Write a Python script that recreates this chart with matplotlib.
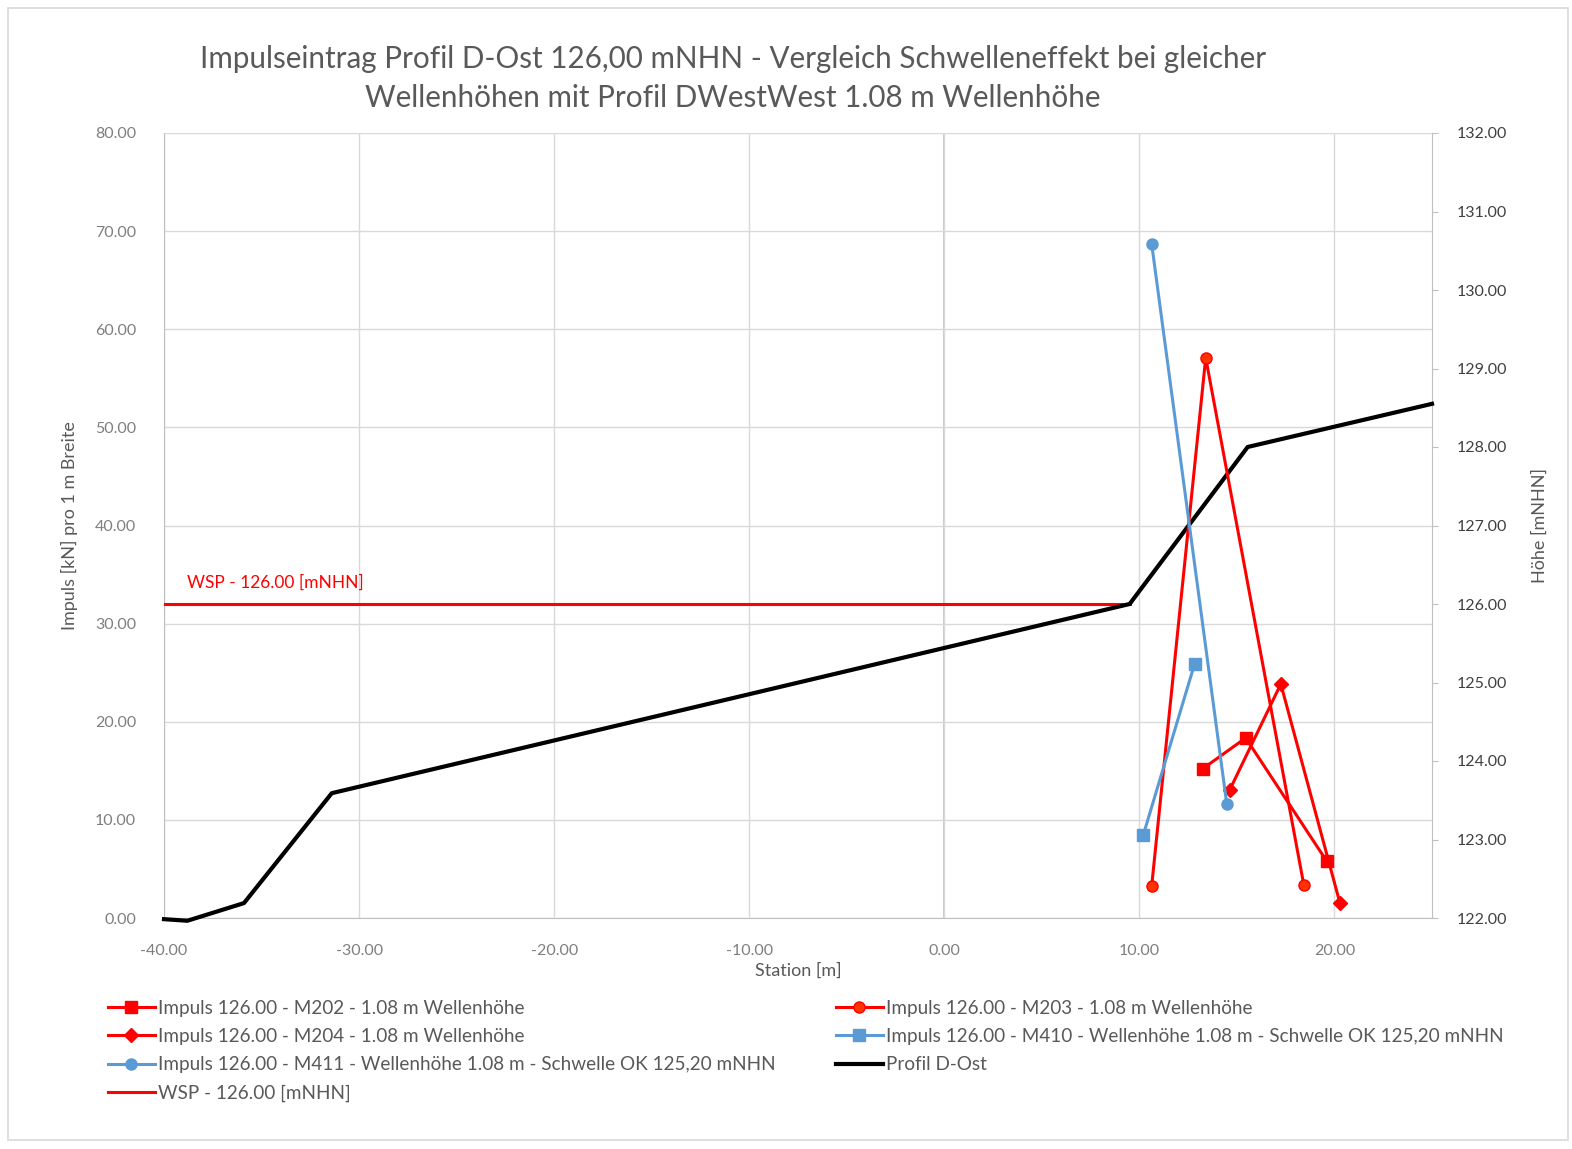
import matplotlib.pyplot as plt
from matplotlib.patches import Rectangle
from matplotlib.lines import Line2D

plt.rcParams['font.family'] = ['Lato', 'DejaVu Sans']

# Impuls-Messungen (Station [m], Impuls [kN/m])
m202_x = [13.24, 15.45, 19.6]
m202_y = [15.2, 18.35, 5.8]
m203_x = [10.63, 13.4, 18.43]
m203_y = [3.26, 57.1, 3.36]
m204_x = [14.63, 17.25, 20.28]
m204_y = [13.05, 23.85, 1.53]
m410_x = [10.2, 12.83]
m410_y = [8.46, 25.9]
m411_x = [10.63, 14.48]
m411_y = [68.7, 11.6]

# Profil D-Ost (Station [m], Hoehe [mNHN])
prof_x = [-40.0, -38.8, -35.9, -31.4, 9.5, 15.55, 25.0]
prof_h = [121.985, 121.965, 122.19, 123.59, 126.0, 128.0, 128.55]

# Wasserspiegel
wsp_x = [-40.0, 9.5]
wsp_h = [126.0, 126.0]

x_ticks = [-40, -30, -20, -10, 0, 10, 20]
left_ticks = [0, 10, 20, 30, 40, 50, 60, 70, 80]
right_ticks = [122, 123, 124, 125, 126, 127, 128, 129, 130, 131, 132]

red = '#ff0000'
blue = '#5b9bd5'
grey = '#595959'


def to_right(vals):
    # linke Achse 0..80 auf rechte Achse 122..132 abbilden
    return [122 + v / 8 for v in vals]


fig = plt.figure(figsize=(15.72, 11.49), dpi=100)
fig.patches.append(Rectangle((8 / 1572, 9 / 1149), 1560 / 1572, 1132 / 1149,
                             transform=fig.transFigure, fill=False,
                             edgecolor='#d9d9d9', linewidth=1.2))

ax = fig.add_axes([164 / 1572, 1 - 918 / 1149, 1268 / 1572, 785 / 1149])
ax2 = ax.twinx()

ax.set_xlim(-40, 25)
ax.set_ylim(0, 80)
ax2.set_ylim(122, 132)

ax.set_xticks(x_ticks)
ax.set_xticklabels([f'{v:.2f}' for v in x_ticks])
ax.set_yticks(left_ticks)
ax.set_yticklabels([f'{v:.2f}' for v in left_ticks])
ax2.set_yticks(right_ticks)
ax2.set_yticklabels([f'{v:.2f}' for v in right_ticks])

ax.grid(True, color='#d9d9d9', linewidth=1.0)
ax.set_axisbelow(True)
ax.axvline(0, color='#bfbfbf', linewidth=1.2, zorder=0.5)
for a in (ax, ax2):
    for s in a.spines.values():
        s.set_visible(False)
ax.spines['left'].set_visible(True)
ax.spines['left'].set_color('#bfbfbf')
ax.spines['bottom'].set_visible(True)
ax.spines['bottom'].set_color('#bfbfbf')
ax2.spines['right'].set_visible(True)
ax2.spines['right'].set_color('#bfbfbf')

ax.tick_params(axis='y', length=0, labelsize=11.5, labelcolor='#7f7f7f', pad=20)
ax.tick_params(axis='x', length=0, labelsize=11.5, labelcolor='#7f7f7f', pad=19)
ax2.tick_params(axis='y', length=4, color='#bfbfbf', labelsize=11.5,
                labelcolor='#404040', pad=14)

ax.set_xlabel('Station [m]', fontsize=13, color=grey, labelpad=3)
ax.set_ylabel('Impuls [kN] pro 1 m Breite', fontsize=13, color=grey, labelpad=12)
ax2.set_ylabel('Höhe [mNHN]', fontsize=13, color=grey, rotation=90, labelpad=17)

lw = 2.2
ax2.plot(wsp_x, wsp_h, color=red, linewidth=lw, zorder=2)
ax2.plot(prof_x, prof_h, color='black', linewidth=3, zorder=3, clip_on=False)
ax2.plot(m202_x, to_right(m202_y), color=red, linewidth=lw,
         marker='s', markersize=8, zorder=4)
ax2.plot(m203_x, to_right(m203_y), color=red, linewidth=lw,
         marker='o', markersize=8, markerfacecolor='#ff3300', zorder=4)
ax2.plot(m204_x, to_right(m204_y), color=red, linewidth=lw,
         marker='D', markersize=7, zorder=4)
ax2.plot(m410_x, to_right(m410_y), color=blue, linewidth=lw,
         marker='s', markersize=8, zorder=4)
ax2.plot(m411_x, to_right(m411_y), color=blue, linewidth=lw,
         marker='o', markersize=8, zorder=4)

ax2.text(-38.8, 126.17, 'WSP - 126.00 [mNHN]', color=red, fontsize=12.5,
         va='bottom', ha='left')

fig.text(733 / 1572, 1 - 59 / 1149,
         'Impulseintrag Profil D-Ost 126,00 mNHN - Vergleich Schwelleneffekt bei gleicher',
         ha='center', va='center', fontsize=21.3, color=grey)
fig.text(733 / 1572, 1 - 98 / 1149,
         'Wellenhöhen mit Profil DWestWest 1.08 m Wellenhöhe',
         ha='center', va='center', fontsize=21.3, color=grey)

# Reihenfolge so, dass die Legende zeilenweise wie im Original liest
h_m202 = Line2D([], [], color=red, lw=lw, marker='s', markersize=8)
h_m203 = Line2D([], [], color=red, lw=lw, marker='o', markersize=8, markerfacecolor='#ff3300')
h_m204 = Line2D([], [], color=red, lw=lw, marker='D', markersize=7)
h_m410 = Line2D([], [], color=blue, lw=lw, marker='s', markersize=8)
h_m411 = Line2D([], [], color=blue, lw=lw, marker='o', markersize=8)
h_prof = Line2D([], [], color='black', lw=3)
h_wsp = Line2D([], [], color=red, lw=lw)
handles = [h_m202, h_m204, h_m411, h_wsp, h_m203, h_m410, h_prof]
labels = [
    'Impuls 126.00 - M202 - 1.08 m Wellenhöhe',
    'Impuls 126.00 - M204 - 1.08 m Wellenhöhe',
    'Impuls 126.00 - M411 - Wellenhöhe 1.08 m - Schwelle OK 125,20 mNHN',
    'WSP - 126.00 [mNHN]',
    'Impuls 126.00 - M203 - 1.08 m Wellenhöhe',
    'Impuls 126.00 - M410 - Wellenhöhe 1.08 m - Schwelle OK 125,20 mNHN',
    'Profil D-Ost',
]
leg = fig.legend(handles, labels, ncol=2, loc='upper left',
                 bbox_to_anchor=(100 / 1572, 1 - 992 / 1149), frameon=False,
                 fontsize=13.6, handlelength=2.5, handletextpad=0.15,
                 columnspacing=3.2, labelspacing=0.6, borderaxespad=0)
for t in leg.get_texts():
    t.set_color(grey)

fig.savefig('out.png', dpi=100)
